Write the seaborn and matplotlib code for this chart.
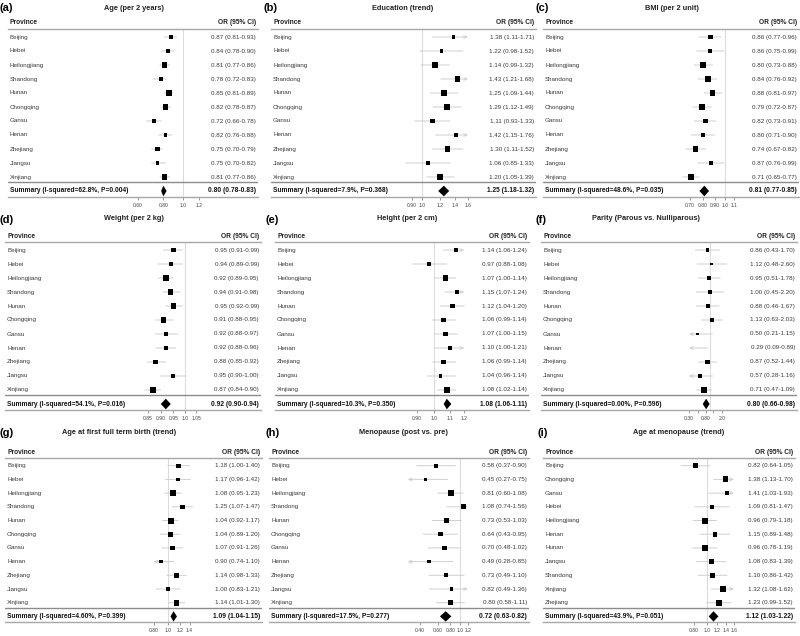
"""Province-level forest plots (odds ratios with 95% CI) for nine risk factors."""

import matplotlib

matplotlib.use("Agg")

import matplotlib.pyplot as plt
import matplotlib.transforms as mtransforms
import numpy as np
import pandas as pd
import seaborn as sns
from matplotlib.ticker import FixedFormatter, FixedLocator, NullLocator

PROVINCES = ["Beijing", "Hebei", "Heilongjiang", "Shandong", "Hunan", "Chongqing",
             "Gansu", "Henan", "Zhejiang", "Jiangsu", "Xinjiang"]
PROVINCES_ALPHA = ["Beijing", "Chongqing", "Gansu", "Hebei", "Heilongjiang", "Henan",
                   "Hunan", "Jiangsu", "Shandong", "Xinjiang", "Zhejiang"]

# (a) Age (per 2 years)
AGE_OR = [0.87, 0.84, 0.81, 0.78, 0.85, 0.82, 0.72, 0.82, 0.75, 0.75, 0.81]
AGE_LO = [0.81, 0.78, 0.77, 0.72, 0.81, 0.78, 0.66, 0.76, 0.70, 0.70, 0.77]
AGE_HI = [0.93, 0.90, 0.86, 0.83, 0.89, 0.87, 0.78, 0.88, 0.79, 0.82, 0.86]
AGE_SUM = [0.80, 0.78, 0.83]

# (b) Education (trend)
EDU_OR = [1.38, 1.22, 1.14, 1.43, 1.25, 1.29, 1.11, 1.42, 1.30, 1.06, 1.20]
EDU_LO = [1.11, 0.98, 0.99, 1.21, 1.09, 1.12, 0.93, 1.15, 1.11, 0.85, 1.05]
EDU_HI = [1.71, 1.52, 1.32, 1.68, 1.44, 1.49, 1.33, 1.76, 1.52, 1.33, 1.39]
EDU_SUM = [1.25, 1.18, 1.32]

# (c) BMI (per 2 unit)
BMI_OR = [0.86, 0.86, 0.80, 0.84, 0.88, 0.79, 0.82, 0.80, 0.74, 0.87, 0.71]
BMI_LO = [0.77, 0.75, 0.73, 0.76, 0.81, 0.72, 0.73, 0.71, 0.67, 0.76, 0.65]
BMI_HI = [0.96, 0.99, 0.88, 0.92, 0.97, 0.87, 0.91, 0.90, 0.82, 0.99, 0.77]
BMI_SUM = [0.81, 0.77, 0.85]

# (d) Weight (per 2 kg)
WEIGHT_OR = [0.95, 0.94, 0.92, 0.94, 0.95, 0.91, 0.92, 0.92, 0.88, 0.95, 0.87]
WEIGHT_LO = [0.91, 0.89, 0.89, 0.91, 0.92, 0.88, 0.88, 0.88, 0.85, 0.90, 0.84]
WEIGHT_HI = [0.99, 0.99, 0.95, 0.98, 0.99, 0.95, 0.97, 0.96, 0.92, 1.00, 0.90]
WEIGHT_SUM = [0.92, 0.90, 0.94]

# (e) Height (per 2 cm)
HEIGHT_OR = [1.14, 0.97, 1.07, 1.15, 1.12, 1.06, 1.07, 1.10, 1.06, 1.04, 1.08]
HEIGHT_LO = [1.06, 0.88, 1.00, 1.07, 1.04, 0.99, 1.00, 1.00, 0.99, 0.96, 1.02]
HEIGHT_HI = [1.24, 1.08, 1.14, 1.24, 1.20, 1.14, 1.15, 1.21, 1.14, 1.14, 1.14]
HEIGHT_SUM = [1.08, 1.06, 1.11]

# (f) Parity (Parous vs. Nulliparous)
PARITY_OR = [0.86, 1.12, 0.95, 1.00, 0.88, 1.13, 0.50, 0.29, 0.87, 0.57, 0.71]
PARITY_LO = [0.43, 0.48, 0.51, 0.45, 0.46, 0.63, 0.21, 0.09, 0.52, 0.28, 0.47]
PARITY_HI = [1.70, 2.60, 1.78, 2.20, 1.67, 2.03, 1.15, 0.89, 1.44, 1.16, 1.09]
PARITY_SUM = [0.80, 0.66, 0.98]

# (g) Age at first full term birth (trend)
BIRTH_OR = [1.18, 1.17, 1.08, 1.25, 1.04, 1.04, 1.07, 0.90, 1.14, 1.00, 1.14]
BIRTH_LO = [1.00, 0.96, 0.95, 1.07, 0.92, 0.89, 0.91, 0.74, 0.98, 0.83, 1.01]
BIRTH_HI = [1.40, 1.42, 1.23, 1.47, 1.17, 1.20, 1.26, 1.10, 1.33, 1.21, 1.30]
BIRTH_SUM = [1.09, 1.04, 1.15]

# (h) Menopause (post vs. pre)
MENO_OR = [0.58, 0.45, 0.81, 1.08, 0.73, 0.64, 0.70, 0.49, 0.73, 0.82, 0.80]
MENO_LO = [0.37, 0.27, 0.60, 0.74, 0.53, 0.43, 0.48, 0.28, 0.49, 0.49, 0.58]
MENO_HI = [0.90, 0.75, 1.08, 1.56, 1.03, 0.95, 1.02, 0.85, 1.10, 1.36, 1.11]
MENO_SUM = [0.72, 0.63, 0.82]

# (i) Age at menopause (trend), provinces in alphabetical order
MENO_AGE_OR = [0.82, 1.38, 1.41, 1.09, 0.96, 1.15, 0.96, 1.08, 1.10, 1.32, 1.23]
MENO_AGE_LO = [0.64, 1.13, 1.03, 0.81, 0.79, 0.89, 0.78, 0.83, 0.86, 1.08, 0.99]
MENO_AGE_HI = [1.05, 1.70, 1.93, 1.47, 1.18, 1.48, 1.19, 1.39, 1.42, 1.62, 1.52]
MENO_AGE_SUM = [1.12, 1.03, 1.22]

LETTERS = ["(a)", "(b)", "(c)", "(d)", "(e)", "(f)", "(g)", "(h)", "(i)"]
TITLES = ["Age (per 2 years)", "Education (trend)", "BMI (per 2 unit)",
          "Weight (per 2 kg)", "Height (per 2 cm)", "Parity (Parous vs. Nulliparous)",
          "Age at first full term birth (trend)", "Menopause (post vs. pre)",
          "Age at menopause (trend)"]
I_SQUARED = ["62.8%", "7.9%", "48.6%", "54.1%", "10.3%", "0.00%", "4.60%", "17.5%", "43.9%"]
P_VALUES = ["0.004", "0.368", "0.035", "0.016", "0.350", "0.596", "0.399", "0.277", "0.051"]

TICKS = [
    [0.60, 0.80, 1.0, 1.2],
    [0.90, 1.0, 1.2, 1.4, 1.6],
    [0.70, 0.80, 0.90, 1.0, 1.1],
    [0.85, 0.90, 0.95, 1.0, 1.05],
    [0.90, 1.0, 1.1, 1.2],
    [0.30, 0.50, 0.80, 1.2, 2.0],
    [0.80, 1.0, 1.2, 1.4],
    [0.40, 0.60, 0.80, 1.0, 1.2],
    [0.80, 1.0, 1.2, 1.4, 1.6],
]
TICK_LABELS = [
    ["0.60", "0.80", "1.0", "1.2"],
    ["0.90", "1.0", "1.2", "1.4", "1.6"],
    ["0.70", "0.80", "0.90", "1.0", "1.1"],
    ["0.85", "0.90", "0.95", "1.0", "1.05"],
    ["0.90", "1.0", "1.1", "1.2"],
    ["0.30", "", "0.80", "", "2.0"],
    ["0.80", "1.0", "1.2", "1.4"],
    ["0.40", "0.60", "0.80", "1.0", "1.2"],
    ["0.80", "1.0", "1.2", "1.4", "1.6"],
]
# CI clipping range per panel (arrows drawn where an interval runs past it)
CLIPS = [(0.5, 1.5), (0.8, 1.6), (0.5, 1.5), (0.8, 1.1), (0.85, 1.2),
         (0.3, 3.0), (0.8, 1.5), (0.3, 1.2), (0.6, 1.6)]

PANEL_DATA = [
    (PROVINCES, AGE_OR, AGE_LO, AGE_HI, AGE_SUM),
    (PROVINCES, EDU_OR, EDU_LO, EDU_HI, EDU_SUM),
    (PROVINCES, BMI_OR, BMI_LO, BMI_HI, BMI_SUM),
    (PROVINCES, WEIGHT_OR, WEIGHT_LO, WEIGHT_HI, WEIGHT_SUM),
    (PROVINCES, HEIGHT_OR, HEIGHT_LO, HEIGHT_HI, HEIGHT_SUM),
    (PROVINCES, PARITY_OR, PARITY_LO, PARITY_HI, PARITY_SUM),
    (PROVINCES, BIRTH_OR, BIRTH_LO, BIRTH_HI, BIRTH_SUM),
    (PROVINCES, MENO_OR, MENO_LO, MENO_HI, MENO_SUM),
    (PROVINCES_ALPHA, MENO_AGE_OR, MENO_AGE_LO, MENO_AGE_HI, MENO_AGE_SUM),
]

# Layout in figure pixels: table left/right, x of OR=1, px per ln(OR), title x, letter x
W, H = 800, 636
COL_GEOM = [
    (8, 258, 183, 88, 134, 0), (271, 536, 422, 98, 403, 263), (543, 799, 725, 98, 672, 535),
    (5, 261, 185, 230, 134, 0), (275, 529, 434, 166, 407, 265), (541, 797, 710, 17.5, 646, 535),
    (5, 262, 168, 64, 119, 0), (269, 529, 460, 43.5, 403, 265), (543, 795, 707, 57.5, 679, 537),
]
# header y, row step, letter y, title y
ROW_GEOM = [(23, 14, 8, 8), (236, 14, 220, 218), (452, 13.7, 433, 433)]

TEXT_COLOR = "#3a3a3a"
RULE_COLOR = "#a8a8a8"
CI_COLOR = "#cfcfcf"
MAX_BOX_PX = 6.0
FONT_ROW = 4.5
FONT_BOLD = 4.8


def draw_panel(fig, idx):
    names, est, lo, hi, summary = PANEL_DATA[idx]
    left, right, ref, scale, title_x, letter_x = COL_GEOM[idx]
    header_px, step, letter_y, title_y = ROW_GEOM[idx // 3]
    top_px = header_px + 0.43 * step
    bottom_px = header_px + 12.43 * step

    ax = fig.add_axes([left / W, 1 - bottom_px / H, (right - left) / W, (bottom_px - top_px) / H])

    rows = pd.DataFrame({"name": names, "est": est, "lo": lo, "hi": hi})
    rows["row"] = np.arange(len(rows))
    info = 1 / (np.log(rows["hi"]) - np.log(rows["lo"]))
    side_pt = MAX_BOX_PX * 0.72 * info / info.max()
    rows["area"] = side_pt ** 2
    clip_lo, clip_hi = CLIPS[idx]
    visible = rows[(rows["est"] >= clip_lo) & (rows["est"] <= clip_hi)]
    max_area = (MAX_BOX_PX * 0.72) ** 2

    sns.scatterplot(data=visible, x="est", y="row", size="area", sizes=(0, max_area),
                    size_norm=(0, max_area), marker="s", color="black", linewidth=0,
                    legend=False, ax=ax, zorder=3)

    for _, r in rows.iterrows():
        a = max(r["lo"], clip_lo)
        b = min(r["hi"], clip_hi)
        left_arrow = r["lo"] < clip_lo
        right_arrow = r["hi"] > clip_hi
        style = {(False, False): "-", (True, False): "<-",
                 (False, True): "->", (True, True): "<->"}[(left_arrow, right_arrow)]
        if style != "-":
            style += ",head_length=0.22,head_width=0.1"
        ax.annotate("", xy=(b, r["row"]), xytext=(a, r["row"]),
                    arrowprops=dict(arrowstyle=style, color=CI_COLOR, lw=0.7,
                                    shrinkA=0, shrinkB=0, mutation_scale=10),
                    zorder=2)

    s_est, s_lo, s_hi = summary
    n = len(rows)
    ax.fill([s_lo, s_est, s_hi, s_est], [n, n - 0.38, n, n + 0.38], color="black",
            lw=0, zorder=3)

    ax.set_xscale("log")
    ax.set_xlim(np.exp((left - ref) / scale), np.exp((right - ref) / scale))
    ax.set_ylim(n + 0.43, -0.57)
    ax.axvline(1, color="#dcdcdc", lw=0.8, zorder=0)
    ax.axhline(n - 0.64, color="#8c8c8c", lw=1.0, zorder=1)

    for side in ("left", "right"):
        ax.spines[side].set_visible(False)
    for side in ("top", "bottom"):
        ax.spines[side].set_color(RULE_COLOR)
        ax.spines[side].set_linewidth(1.0)
    ax.set_xlabel("")
    ax.set_ylabel("")
    ax.set_yticks([])
    ax.xaxis.set_major_locator(FixedLocator(TICKS[idx]))
    ax.xaxis.set_major_formatter(FixedFormatter(TICK_LABELS[idx]))
    ax.xaxis.set_minor_locator(NullLocator())
    ax.tick_params(axis="x", bottom=True, length=2.5, width=0.6, color="#888888",
                   labelsize=3.6, pad=1.5, labelcolor="#444444")

    trans = mtransforms.blended_transform_factory(ax.transAxes, ax.transData)
    pad = 2 / (right - left)
    for _, r in rows.iterrows():
        ax.text(pad, r["row"], r["name"], transform=trans, ha="left", va="center",
                fontsize=FONT_ROW, color=TEXT_COLOR)
        ax.text(1 - pad, r["row"], f"{r['est']:.2f} ({r['lo']:.2f}-{r['hi']:.2f})",
                transform=trans, ha="right", va="center", fontsize=FONT_ROW, color=TEXT_COLOR)

    ax.text(pad, -1, "Province", transform=trans, ha="left", va="center",
            fontsize=FONT_BOLD, fontweight="bold", color="#222222")
    ax.text(1 - pad, -1, "OR (95% CI)", transform=trans, ha="right", va="center",
            fontsize=FONT_BOLD, fontweight="bold", color="#222222")
    ax.text(pad, n, f"Summary (I-squared={I_SQUARED[idx]}, P={P_VALUES[idx]})",
            transform=trans, ha="left", va="center", fontsize=FONT_BOLD,
            fontweight="bold", color="#111111")
    ax.text(1 - pad, n, f"{s_est:.2f} ({s_lo:.2f}-{s_hi:.2f})", transform=trans,
            ha="right", va="center", fontsize=FONT_BOLD, fontweight="bold", color="#111111")

    fig.text(title_x / W, 1 - title_y / H, TITLES[idx], ha="center", va="center",
             fontsize=5.3, fontweight="bold", color="#222222")
    fig.text(letter_x / W, 1 - letter_y / H, LETTERS[idx], ha="left", va="center",
             fontsize=8, fontweight="bold", color="black")


def main():
    sns.set_theme(style="white")
    plt.rcParams["font.family"] = ["Liberation Sans", "DejaVu Sans"]
    fig = plt.figure(figsize=(W / 100, H / 100), dpi=100)
    for idx in range(len(PANEL_DATA)):
        draw_panel(fig, idx)
    fig.savefig("out.png", dpi=100, facecolor="white")
    plt.close(fig)


if __name__ == "__main__":
    main()
